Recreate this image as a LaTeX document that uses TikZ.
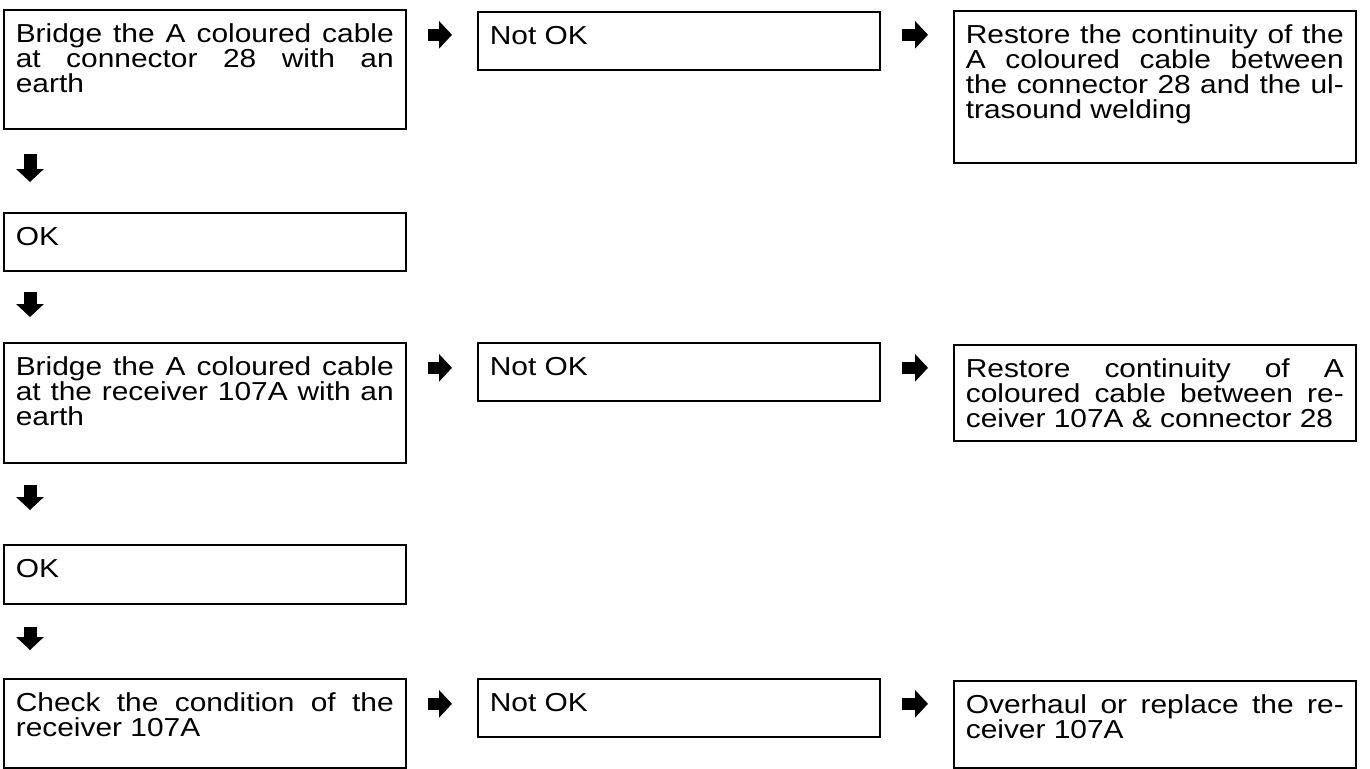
\documentclass[tikz,border=0pt]{standalone}
\usepackage{fontspec}
\setmainfont{Liberation Sans}[FakeStretch=1.15]
\usetikzlibrary{arrows.meta}
\tolerance=10000
\hbadness=10000
\hyphenpenalty=10000
\normallineskiplimit=-20pt
\lineskiplimit=-20pt

\begin{document}
\begin{tikzpicture}[x=0.5pt,y=-0.5pt,
    stepbox/.style={draw,line width=0.8pt,anchor=north west,align=justify,
        text width=189pt,inner xsep=6pt,inner ysep=0pt,text height=16.5pt,
        font=\fontsize{13}{12.5}\selectfont,
        execute at begin node={\lineskiplimit=-20pt\tolerance=10000\relax}},
    flowarrow/.style={line width=6.5pt,-{Triangle[length=6.5pt,width=13.5pt]}},
    goright/.style={flowarrow,line width=6pt,shorten <=10.5pt,shorten >=12.5pt}]
\useasboundingbox (0,0) rectangle (1370,768);

%
\node[stepbox,text depth=43pt] (b1) at (3,9)
    {Bridge the A coloured cable\linebreak at connector 28 with an\linebreak earth};
\node[stepbox,text depth=12.5pt] (n1) at (477,11) {Not OK};
\node[stepbox,text depth=59.5pt] (r1) at (953,10)
    {Restore the continuity of the\linebreak A coloured cable between\linebreak the connector 28 and the ul-\linebreak trasound welding};

\node[stepbox,text depth=12.5pt] (ok1) at (3,212) {OK};

%
\node[stepbox,text depth=43.5pt] (b2) at (3,342)
    {Bridge the A coloured cable\linebreak at the receiver 107A with an\linebreak earth};
\node[stepbox,text depth=12.5pt] (n2) at (477,342) {Not OK};
\node[stepbox,text depth=31.5pt] (r2) at (953,344)
    {Restore continuity of A\linebreak coloured cable between re-\linebreak ceiver 107A \& connector 28};

\node[stepbox,text depth=13pt] (ok2) at (3,544) {OK};

%
\node[stepbox,text depth=28pt] (b3) at (3,678)
    {Check the condition of the\linebreak receiver 107A};
\node[stepbox,text depth=12.5pt] (n3) at (477,678) {Not OK};
\node[stepbox,text depth=27pt] (r3) at (953,680)
    {Overhaul or replace the re-\linebreak ceiver 107A};

%
\draw[goright] ([yshift=4pt]b1.base east) -- ([yshift=4pt]b1.base east -| n1.west);
\draw[goright] ([yshift=4pt]b1.base east -| n1.east) -- ([yshift=4pt]b1.base east -| r1.west);
\draw[goright] ([yshift=4pt]b2.base east) -- ([yshift=4pt]b2.base east -| n2.west);
\draw[goright] ([yshift=4pt]b2.base east -| n2.east) -- ([yshift=4pt]b2.base east -| r2.west);
\draw[goright] ([yshift=4pt]b3.base east) -- ([yshift=4pt]b3.base east -| n3.west);
\draw[goright] ([yshift=4pt]b3.base east -| n3.east) -- ([yshift=4pt]b3.base east -| r3.west);

%
\draw[flowarrow,shorten <=12pt,shorten >=15pt]
    ([xshift=13.5pt]b1.south west) -- ([xshift=13.5pt]ok1.north west);
\draw[flowarrow,shorten <=10pt,shorten >=12.5pt]
    ([xshift=13.5pt]ok1.south west) -- ([xshift=13.5pt]b2.north west);
\draw[flowarrow,shorten <=10.5pt,shorten >=17pt]
    ([xshift=13.5pt]b2.south west) -- ([xshift=13.5pt]ok2.north west);
\draw[flowarrow,shorten <=11pt,shorten >=14pt]
    ([xshift=13.5pt]ok2.south west) -- ([xshift=13.5pt]b3.north west);
\end{tikzpicture}
\end{document}
